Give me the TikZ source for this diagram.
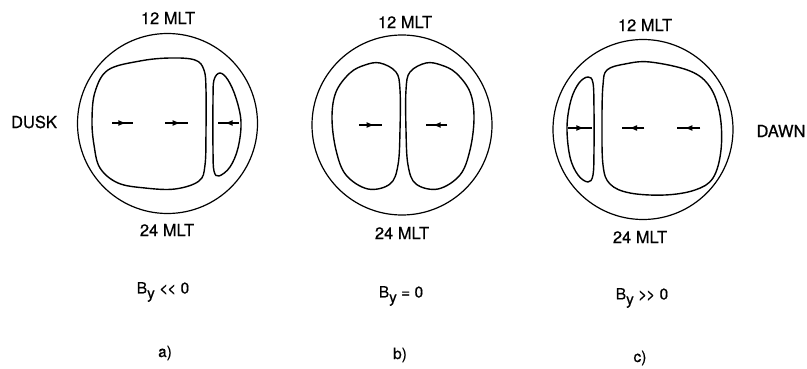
\documentclass[tikz,border=0pt]{standalone}
\usepackage{fontspec}
\setmainfont{TeX Gyre Heros}
\newfontfamily\hv{TeX Gyre Heros}[FakeBold=0.5]
\usetikzlibrary{arrows.meta,calc}
\begin{document}
\begin{tikzpicture}[x=1pt,y=-1pt,
  outer/.style={draw=black,line width=1.2pt},
  cell/.style={draw=black,line width=1.4pt},
  lbl/.style={font=\hv\fontsize{16.5}{19}\selectfont,inner sep=0pt},
  blbl/.style={font=\hv\fontsize{15.5}{18}\selectfont,inner sep=0pt},
  flowline/.style={line width=1.5pt},
  flowhead/.style={line width=1.5pt,-{Latex[length=8pt,width=6pt]}}]
\useasboundingbox (0,0) rectangle (807,369);
% ---- panel a
\node[outer,circle,minimum size=180pt,inner sep=0pt] (ca) at (167.5,123.5) {};
\draw[cell] plot[smooth cycle,tension=0.6] coordinates {(92,120) (95,92) (108,70) (140,61) (170,58) (195,60) (204,70) (206,90) (206,130) (205,165) (199,181) (175,189) (145,188) (118,183) (100,168) (94,145)};
\draw[cell] plot[smooth cycle,tension=0.6] coordinates {(220,73) (228,80) (236,98) (241,122) (238,148) (230,167) (219,176) (214,171) (213,150) (213,100) (214,80)};
\node[lbl] (a12) at (168,18) {12 MLT};
\node[lbl] (a24) at (167,230) {24 MLT};
\node[lbl] (dusk) at (34,122) {DUSK};
\coordinate (a1s) at (112,123); \coordinate (a1e) at (133,123);
\coordinate (a2s) at (165,123); \coordinate (a2e) at (188,123);
\coordinate (a3s) at (239,123); \coordinate (a3e) at (218,123);
\foreach \s/\e in {a1s/a1e,a2s/a2e,a3s/a3e}{
  \draw[flowline] (\s) -- (\e);
  \draw[flowhead] (\s) -- ($(\s)!0.68!(\e)$);}
\node[blbl] (ba) at (163,292) {B\raisebox{-5pt}{y} <\kern-1pt< 0};
\node[blbl] (la) at (165,353) {a)};
% ---- panel b
\node[outer,circle,minimum size=180pt,inner sep=0pt] (cb) at (402,125) {};
\draw[cell] plot[smooth cycle,tension=0.6] coordinates {(380,63) (396,72) (400,90) (400,130) (398,165) (390,184) (368,189) (346,175) (336,150) (332,118) (336,92) (350,73) (365,65)};
\draw[cell] plot[smooth cycle,tension=0.6] coordinates {(426,63) (410,72) (406,90) (406,130) (408,165) (416,184) (438,189) (460,175) (470,150) (474,118) (470,92) (456,73) (441,65)};
\node[lbl] (b12) at (405,22) {12 MLT};
\node[lbl] (b24) at (402,233) {24 MLT};
\coordinate (b1s) at (359,125); \coordinate (b1e) at (382,125);
\coordinate (b2s) at (447,125); \coordinate (b2e) at (426,125);
\foreach \s/\e in {b1s/b1e,b2s/b2e}{
  \draw[flowline] (\s) -- (\e);
  \draw[flowhead] (\s) -- ($(\s)!0.68!(\e)$);}
\node[blbl] (bb) at (401,296) {B\raisebox{-5pt}{y} = 0};
\node[blbl] (lb) at (400,355) {b)};
% ---- panel c
\node[outer,circle,minimum size=180pt,inner sep=0pt] (cc) at (643,129.5) {};
\draw[cell] plot[smooth cycle,tension=0.6] coordinates {(588,77) (593,83) (594,110) (594,150) (593,175) (588,182) (578,175) (570,157) (567,127) (571,100) (579,83)};
\draw[cell] plot[smooth cycle,tension=0.6] coordinates {(607,70) (625,64) (650,62) (690,71) (710,87) (720,115) (721,150) (713,178) (695,190) (665,195) (630,193) (610,184) (603,165) (602,120) (603,85)};
\node[lbl] (c12) at (645,25) {12 MLT};
\node[lbl] (c24) at (640,237) {24 MLT};
\node[lbl] (dawn) at (781,131) {DAWN};
\coordinate (c1s) at (568,128); \coordinate (c1e) at (592,128);
\coordinate (c2s) at (644,128); \coordinate (c2e) at (622,128);
\coordinate (c3s) at (700,128); \coordinate (c3e) at (677,128);
\foreach \s/\e in {c1s/c1e,c2s/c2e,c3s/c3e}{
  \draw[flowline] (\s) -- (\e);
  \draw[flowhead] (\s) -- ($(\s)!0.68!(\e)$);}
\node[blbl] (bc) at (642,298) {B\raisebox{-5pt}{y} >\kern-1pt> 0};
\node[blbl] (lc) at (640,358) {c)};
\end{tikzpicture}
\end{document}
